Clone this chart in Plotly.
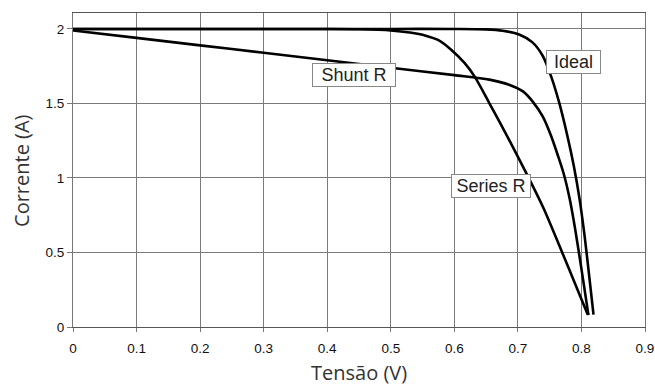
import plotly.graph_objects as go

# Data
ideal_v = [0, 0.1, 0.2, 0.3, 0.4, 0.5, 0.6, 0.65, 0.676, 0.702, 0.723, 0.739, 0.752, 0.765, 0.778, 0.788, 0.797, 0.805, 0.812, 0.819]
ideal_i = [2.0, 2.0, 2.0, 2.0, 2.0, 2.0, 2.0, 1.997, 1.988, 1.963, 1.91, 1.82, 1.685, 1.505, 1.28, 1.08, 0.86, 0.61, 0.35, 0.083]

series_v = [0, 0.1, 0.2, 0.3, 0.4, 0.45, 0.5, 0.53, 0.555, 0.575, 0.595, 0.616, 0.632, 0.655, 0.686, 0.713, 0.74, 0.77, 0.79, 0.81]
series_i = [2.0, 2.0, 2.0, 2.0, 2.0, 1.998, 1.99, 1.976, 1.955, 1.925, 1.861, 1.772, 1.68, 1.503, 1.257, 1.034, 0.8, 0.497, 0.29, 0.083]

shunt_v = [0, 0.1, 0.2, 0.3, 0.4, 0.5, 0.6, 0.655, 0.686, 0.708, 0.723, 0.739, 0.752, 0.763, 0.772, 0.781, 0.79, 0.8, 0.811]
shunt_i = [1.99, 1.94, 1.89, 1.84, 1.79, 1.74, 1.69, 1.66, 1.626, 1.581, 1.514, 1.413, 1.285, 1.15, 1.03, 0.87, 0.66, 0.39, 0.08]

labels = ["Ideal", "Series R", "Shunt R"]
label_v = [0.787, 0.658, 0.4425]
label_i = [1.78, 0.944, 1.691]
label_w = [51, 76, 80]

x_ticks = [0, 0.1, 0.2, 0.3, 0.4, 0.5, 0.6, 0.7, 0.8, 0.9]
x_ticktext = ["0", "0.1", "0.2", "0.3", "0.4", "0.5", "0.6", "0.7", "0.8", "0.9"]
y_ticks = [0, 0.5, 1, 1.5, 2]
y_ticktext = ["0", "0.5", "1", "1.5", "2"]

x_title = "Tensão (V)"
y_title = "Corrente (A)"

fig = go.Figure()
for v, i in [(ideal_v, ideal_i), (series_v, series_i), (shunt_v, shunt_i)]:
    fig.add_trace(go.Scatter(x=v, y=i, mode="lines",
                             line=dict(color="black", width=2.6, shape="spline", smoothing=0.8),
                             showlegend=False, hoverinfo="skip"))

for t, xv, yv, w in zip(labels, label_v, label_i, label_w):
    fig.add_annotation(x=xv, y=yv, text=t, showarrow=False, xanchor="center", yanchor="middle",
                       font=dict(family="Liberation Sans, Arial", size=18, color="#222"),
                       bgcolor="white", bordercolor="#888", borderwidth=1, borderpad=1,
                       width=w, height=20)

# axis titles
fig.add_annotation(xref="paper", yref="paper", x=0.5, y=-0.146, text=x_title, showarrow=False,
                   xanchor="center", yanchor="middle",
                   font=dict(family="Open Sans", size=20, color="#333"))
fig.add_annotation(xref="paper", yref="paper", x=-0.091, y=0.5, text=y_title, showarrow=False,
                   xanchor="center", yanchor="middle", textangle=-90,
                   font=dict(family="Open Sans", size=20, color="#333"))

fig.update_layout(
    width=655, height=386,
    margin=dict(l=73, r=10, t=13, b=59, autoexpand=False),
    paper_bgcolor="white", plot_bgcolor="white",
    xaxis=dict(range=[0, 0.9], tickvals=x_ticks, ticktext=x_ticktext,
               showgrid=True, gridcolor="#7a7a7a", gridwidth=1,
               showline=True, linecolor="#555", linewidth=1, mirror=True,
               ticks="outside", ticklen=4, tickcolor="#777",
               ticklabelstandoff=5, automargin=False,
               tickfont=dict(family="Liberation Sans, Arial", size=13.5, color="#111"),
               zeroline=False),
    yaxis=dict(range=[0, 2.107], tickvals=y_ticks, ticktext=y_ticktext,
               showgrid=True, gridcolor="#7a7a7a", gridwidth=1,
               showline=True, linecolor="#777", linewidth=1, mirror=True,
               ticks="outside", ticklen=5, tickcolor="#777", automargin=False,
               tickfont=dict(family="Liberation Sans, Arial", size=13.5, color="#111"),
               zeroline=False),
)

fig.write_html("out.html", config={"displayModeBar": False},
               post_script="document.body.style.margin='0px';document.body.style.overflow='hidden';")
